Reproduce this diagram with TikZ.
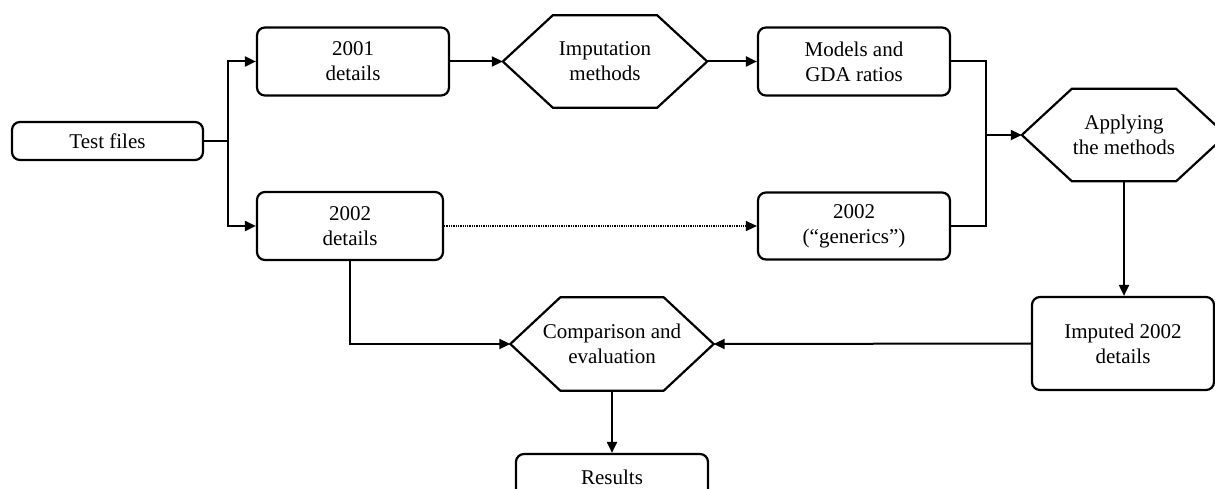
\documentclass[tikz,border=0pt]{standalone}
\usepackage{fontspec}
\setmainfont{Liberation Serif}
\usetikzlibrary{arrows.meta}
\newcommand\hexdraw[1]{\draw[hexline] ([xshift=50pt]#1.north west) -- ([xshift=-50pt]#1.north east) -- (#1.east) -- ([xshift=-50pt]#1.south east) -- ([xshift=50pt]#1.south west) -- (#1.west) -- cycle;}
\begin{document}
\begin{tikzpicture}[x=1pt,y=-1pt,
  txt/.style={font=\fontsize{21}{25}\selectfont, align=center, inner sep=0pt},
  box/.style={txt, draw, line width=2.2pt, rounded corners=8pt},
  hexnode/.style={txt, minimum width=204pt, minimum height=92pt},
  hexline/.style={line width=2.2pt, line join=miter},
  conn/.style={line width=2pt},
  arr/.style={conn, -{Triangle[length=11pt,width=10pt]}},
  dotarr/.style={line width=1.3pt, densely dotted, -{Triangle[length=11pt,width=10pt]}}]
\useasboundingbox (0,0) rectangle (1215,489);
\clip (0,0) rectangle (1215,489);

\node[box, minimum width=191pt, minimum height=38pt] (test) at (107.5,141) {Test files};
\node[box, minimum width=192pt, minimum height=68pt] (d2001) at (353,61.5) {2001\\details};
\node[hexnode] (imp) at (605,61.5) {Imputation\\methods};
\hexdraw{imp}
\node[box, minimum width=192pt, minimum height=68pt] (models) at (854,61.5) {Models and\\GDA ratios};
\node[hexnode] (app) at (1124,135) {Applying\\the methods};
\hexdraw{app}
\node[box, minimum width=186pt, minimum height=68pt] (d2002) at (350,226) {2002\\details};
\node[box, minimum width=192pt, minimum height=67pt] (gen) at (854,226) {2002\\(“generics”)};
\node[hexnode, minimum width=203pt, minimum height=93pt] (comp) at (612,344) {Comparison and\\evaluation};
\hexdraw{comp}
\node[box, minimum width=182pt, minimum height=93pt] (imput) at (1123,343.5) {Imputed 2002\\details};
\node[box, minimum width=192pt, minimum height=46pt, text depth=0pt] (res) at (612,477) {Results};

\coordinate (split) at (228,141);
\coordinate (join) at (986,135);

\draw[conn] (test.east) -- (split);
\draw[arr] (split) |- (d2001.west);
\draw[arr] (split) |- (d2002.west);
\draw[arr] (d2001.east) -- (imp.west);
\draw[arr] (imp.east) -- (models.west);
\draw[conn] (models.east) -| (join);
\draw[conn] (gen.east) -| (join);
\draw[arr] (join) -- (app.west);
\draw[dotarr] (d2002.east) -- (gen.west);
\draw[arr] (app.south) -- (app.south |- imput.north);
\draw[arr] (imput.west) -- (comp.east);
\draw[arr] (d2002.south) |- (comp.west);
\draw[arr] (comp.south) -- (res.north);
\end{tikzpicture}
\end{document}
